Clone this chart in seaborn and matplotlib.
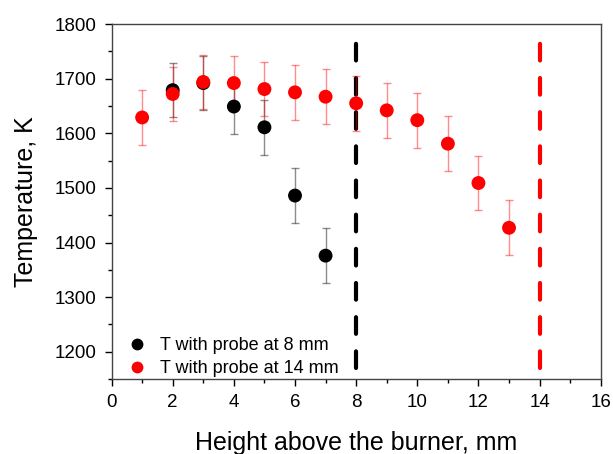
import numpy as np
import pandas as pd
import matplotlib
matplotlib.use("Agg")
import matplotlib.pyplot as plt
from matplotlib.ticker import MultipleLocator
import seaborn as sns

# data
h_8mm = [2, 3, 4, 5, 6, 7]
t_8mm = [1679, 1692, 1649, 1611, 1486, 1376]
err_8mm = [50, 50, 50, 50, 50, 50]

h_14mm = [1, 2, 3, 4, 5, 6, 7, 8, 9, 10, 11, 12, 13]
t_14mm = [1629, 1672, 1694, 1692, 1681, 1675, 1667, 1655, 1642, 1624, 1581, 1509, 1427]
err_14mm = [50] * 13

probe_pos = [8, 14]
probe_colors = ["black", "red"]
probe_span = [1170, 1770]

labels = ["T with probe at 8 mm", "T with probe at 14 mm"]

sns.set_style("ticks", {"text.color": "black", "axes.labelcolor": "black",
                        "xtick.color": "black", "ytick.color": "black"})
plt.rcParams['font.family'] = ['Liberation Sans', 'DejaVu Sans']

df = pd.concat([
    pd.DataFrame({"h": h_8mm, "T": t_8mm, "err": err_8mm, "series": labels[0]}),
    pd.DataFrame({"h": h_14mm, "T": t_14mm, "err": err_14mm, "series": labels[1]}),
], ignore_index=True)
palette = {labels[0]: "black", labels[1]: "red"}

fig = plt.figure(figsize=(6.13, 4.54), dpi=100)
ax = fig.add_axes([0.182, 0.165, 0.798, 0.782])

# probe position markers
for x, c in zip(probe_pos, probe_colors):
    ax.plot([x, x], probe_span, color=c, lw=3, dashes=(4, 4.2), zorder=1,
            solid_capstyle="round", dash_capstyle="round")

# error bars
for lab in labels:
    sub = df[df.series == lab]
    ax.errorbar(sub.h, sub["T"], yerr=sub.err, fmt="none", ecolor=palette[lab],
                alpha=0.45, elinewidth=1, capsize=3, capthick=1, zorder=2)

sns.scatterplot(data=df, x="h", y="T", hue="series", palette=palette,
                s=100, edgecolor="none", ax=ax, zorder=3, legend=True)

ax.set_xlim(0, 16)
ax.set_ylim(1150, 1800)
ax.xaxis.set_major_locator(MultipleLocator(2))
ax.xaxis.set_minor_locator(MultipleLocator(1))
ax.yaxis.set_major_locator(MultipleLocator(100))
ax.yaxis.set_minor_locator(MultipleLocator(50))
ax.tick_params(axis="both", which="major", labelsize=13.5, length=5, width=1,
               direction="out", pad=6)
ax.tick_params(axis="both", which="minor", length=3, width=1, direction="out")
for s in ax.spines.values():
    s.set_color("#444444")
    s.set_linewidth(1)

ax.set_xlabel("Height above the burner, mm", fontsize=18, labelpad=14)
ax.set_ylabel("Temperature, K", fontsize=18, labelpad=12)

leg = ax.legend(loc="lower left", frameon=False, fontsize=13, title=None,
                handletextpad=0.5, labelspacing=0.35, borderaxespad=0.1,
                borderpad=0.0, handlelength=1.6, markerscale=0.85,
                bbox_to_anchor=(0.018, 0.0))

fig.savefig("out.png", dpi=100)
